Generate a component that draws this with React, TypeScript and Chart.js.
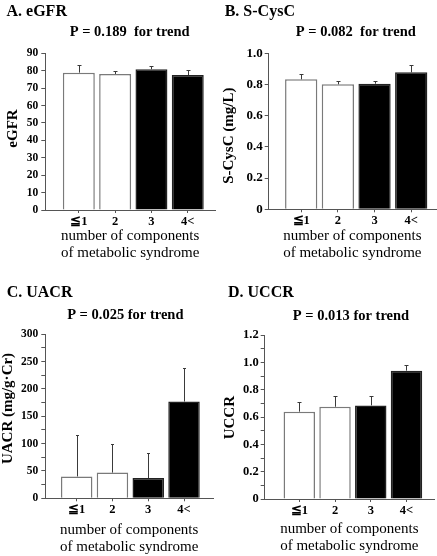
import React, { useEffect, useRef } from 'react';
import { Chart, registerables } from 'chart.js';

Chart.register(...registerables);
Chart.defaults.font.family = "'Liberation Serif', 'Times New Roman', 'DejaVu Serif', serif";
Chart.defaults.color = '#000';

// ---- data ----
const categories = ['≦1', '2', '3', '4<'];
const barFills = ['#ffffff', '#ffffff', '#000000', '#000000'];
const barBorders = ['#7a7a7a', '#7a7a7a', '#222222', '#222222'];
const xAxisTitle = ['number of components', 'of metabolic syndrome'];

const egfrMeans = [78.9, 78.1, 80.8, 77.5];
const egfrErrors = [4.2, 1.9, 2.1, 2.9];
const egfrTickLabels = ['0', '10', '20', '30', '40', '50', '60', '70', '80', '90'];

const cyscMeans = [0.833, 0.801, 0.805, 0.878];
const cyscErrors = [0.032, 0.019, 0.019, 0.045];
const cyscTickLabels = ['0', '0.2', '0.4', '0.6', '0.8', '1.0'];

const uacrMeans = [40, 47, 37, 177];
const uacrErrors = [75, 52, 45, 62];
const uacrTickLabels = ['0', '50', '100', '150', '200', '250', '300'];

const uccrMeans = [0.639, 0.675, 0.685, 0.939];
const uccrErrors = [0.073, 0.076, 0.071, 0.043];
const uccrTickLabels = ['0', '0.2', '0.4', '0.6', '0.8', '1.0', '1.2'];

type PanelProps = {
  left: number; top: number; width: number; height: number;
  area: { l: number; r: number; t: number; b: number };
  xMin: number; xMax: number;
  heading: string; headingPos: [number, number];
  pText: string; pPos: [number, number];
  yTitle: string; yTitlePos: [number, number]; xTitlePad: number;
  means: number[]; errors: number[];
  yMax: number; yStep: number; tickLabels: string[];
  tickFont: number; tickPad: number;
  capHalf: number;
};

function Panel(p: PanelProps) {
  const ref = useRef<HTMLCanvasElement>(null);
  useEffect(() => {
    const canvas = ref.current!;
    const errorBars = {
      id: 'errorBars',
      afterDatasetsDraw(chart: any) {
        const { ctx, scales } = chart;
        const x = scales.x, y = scales.y;
        ctx.save();
        ctx.strokeStyle = '#3a3a3a';
        ctx.lineWidth = 1;
        p.means.forEach((m, i) => {
          const px = Math.round(x.getPixelForValue(i)) + 0.5;
          const y0 = y.getPixelForValue(m);
          const y1 = Math.round(y.getPixelForValue(m + p.errors[i])) + 0.5;
          ctx.beginPath();
          ctx.moveTo(px, y0);
          ctx.lineTo(px, y1);
          ctx.moveTo(px - p.capHalf, y1);
          ctx.lineTo(px + p.capHalf, y1);
          ctx.stroke();
        });
        ctx.restore();
      },
    };
    const texts = {
      id: 'texts',
      afterDraw(chart: any) {
        const ctx = chart.ctx;
        ctx.save();
        ctx.fillStyle = '#000';
        ctx.textBaseline = 'alphabetic';
        ctx.font = "bold 16px 'Liberation Serif'";
        ctx.textAlign = 'left';
        ctx.fillText(p.heading, p.headingPos[0], p.headingPos[1]);
        ctx.font = "bold 14.5px 'Liberation Serif'";
        ctx.textAlign = 'center';
        ctx.fillText(p.pText, p.pPos[0], p.pPos[1]);
        // y-axis title, rotated
        ctx.translate(p.yTitlePos[0], p.yTitlePos[1]);
        ctx.rotate(-Math.PI / 2);
        ctx.font = "bold 15px 'Liberation Serif'";
        ctx.textAlign = 'center';
        ctx.textBaseline = 'middle';
        ctx.fillText(p.yTitle, 0, 0);
        ctx.restore();
      },
    };
    const labelFor = (v: number) => {
      const l = p.tickLabels.find((s) => Math.abs(Number(s) - v) < 1e-6);
      return l ?? '';
    };
    const chart = new Chart(canvas, {
      type: 'bar',
      data: {
        datasets: [
          {
            data: p.means.map((v, i) => ({ x: i, y: v })),
            backgroundColor: barFills,
            borderColor: barBorders,
            borderWidth: 1.5,
            barPercentage: 0.88,
            categoryPercentage: 1,
          } as any,
        ],
      },
      options: {
        animation: false,
        responsive: false,
        layout: { padding: { left: 0, top: p.area.t, right: p.width - p.area.r, bottom: 0 } },
        plugins: { legend: { display: false }, tooltip: { enabled: false } },
        scales: {
          x: {
            type: 'linear',
            offset: false,
            min: p.xMin,
            max: p.xMax,
            afterBuildTicks: (s: any) => {
              s.ticks = categories.map((_, i) => ({ value: i }));
            },
            afterFit: (s: any) => {
              s.height = p.height - p.area.b;
            },
            ticks: {
              callback: (v: any) => categories[v] ?? '',
              font: { size: 12.5, weight: 'bold' },
              color: '#000',
              padding: 1,
              maxRotation: 0,
              autoSkip: false,
            },
            grid: { offset: false, drawOnChartArea: false, tickLength: 3, color: '#555' },
            border: { color: '#555', width: 1 },
            title: {
              display: true,
              text: xAxisTitle,
              font: { size: 15, lineHeight: 1.17 },
              padding: { top: 0, bottom: p.xTitlePad },
              color: '#000',
            },
          } as any,
          y: {
            min: 0,
            max: p.yMax,
            afterBuildTicks: (s: any) => {
              const n = Math.round(p.yMax / p.yStep);
              const t = [];
              for (let i = 0; i <= n; i++) t.push({ value: Math.round(i * p.yStep * 1000) / 1000 });
              s.ticks = t;
            },
            afterFit: (s: any) => {
              s.width = p.area.l;
            },
            ticks: {
              callback: (v: any) => labelFor(Number(v)),
              font: { size: p.tickFont, weight: 'bold' },
              color: '#000',
              padding: p.tickPad,
              autoSkip: false,
            },
            grid: { drawOnChartArea: false, tickLength: 4, color: '#555' },
            border: { color: '#555', width: 1 },
            title: { display: false },
          } as any,
        },
      },
      plugins: [errorBars, texts],
    });
    return () => chart.destroy();
  }, []);
  return (
    <canvas
      ref={ref}
      width={p.width}
      height={p.height}
      style={{ position: 'absolute', left: p.left, top: p.top, width: p.width, height: p.height }}
    />
  );
}

export default function App() {
  return (
    <div style={{ position: 'absolute', left: 0, top: 0, width: 437, height: 556, background: '#fff' }}>
      <Panel
        left={0} top={0} width={218} height={278}
        area={{ l: 45.3, r: 215, t: 53.3, b: 210 }}
        xMin={-0.923} xMax={3.75}
        heading="A. eGFR" headingPos={[6.5, 15.5]}
        pText="P = 0.189  for trend" pPos={[129.7, 36]}
        yTitle="eGFR" yTitlePos={[13.3, 128.5]} xTitlePad={16}
        means={egfrMeans} errors={egfrErrors}
        yMax={90} yStep={10} tickLabels={egfrTickLabels}
        tickFont={11.5} tickPad={3} capHalf={2}
      />
      <Panel
        left={218} top={0} width={219} height={278}
        area={{ l: 50.7, r: 218, t: 53.3, b: 209.3 }}
        xMin={-0.886} xMax={3.676}
        heading="B. S-CysC" headingPos={[6.7, 15.5]}
        pText="P = 0.082  for trend" pPos={[137.8, 36]}
        yTitle="S-CysC (mg/L)" yTitlePos={[10.8, 135.7]} xTitlePad={16}
        means={cyscMeans} errors={cyscErrors}
        yMax={1.0} yStep={0.2} tickLabels={cyscTickLabels}
        tickFont={13} tickPad={2} capHalf={2}
      />
      <Panel
        left={0} top={278} width={218} height={278}
        area={{ l: 45.3, r: 213, t: 56.3, b: 220.3 }}
        xMin={-0.877} xMax={3.81}
        heading="C. UACR" headingPos={[6.7, 18.5]}
        pText="P = 0.025 for trend" pPos={[125.3, 41]}
        yTitle="UACR (mg/g·Cr)" yTitlePos={[8, 130.5]} xTitlePad={0}
        means={uacrMeans} errors={uacrErrors}
        yMax={300} yStep={25} tickLabels={uacrTickLabels}
        tickFont={11.5} tickPad={3} capHalf={1.5}
      />
      <Panel
        left={218} top={278} width={219} height={278}
        area={{ l: 46.7, r: 216, t: 57, b: 221 }}
        xMin={-0.968} xMax={3.77}
        heading="D. UCCR" headingPos={[10, 19]}
        pText="P = 0.013 for trend" pPos={[133, 42]}
        yTitle="UCCR" yTitlePos={[12, 139.7]} xTitlePad={1}
        means={uccrMeans} errors={uccrErrors}
        yMax={1.2} yStep={0.1} tickLabels={uccrTickLabels}
        tickFont={12.5} tickPad={2} capHalf={2}
      />
    </div>
  );
}
